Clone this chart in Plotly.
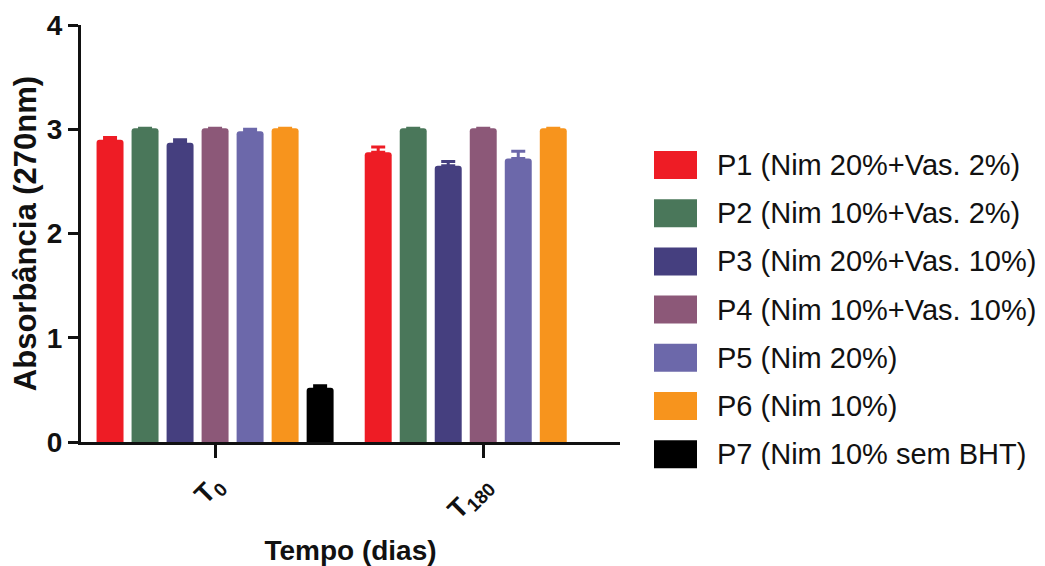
import plotly.graph_objects as go

# ---- data ----
categories = ["T<sub>0</sub>", "T<sub>180</sub>"]
series_names = [
    "P1 (Nim 20%+Vas. 2%)",
    "P2 (Nim 10%+Vas. 2%)",
    "P3 (Nim 20%+Vas. 10%)",
    "P4 (Nim 10%+Vas. 10%)",
    "P5 (Nim 20%)",
    "P6 (Nim 10%)",
    "P7 (Nim 10% sem BHT)",
]
p1_values = [2.90, 2.78]
p2_values = [3.01, 3.01]
p3_values = [2.87, 2.65]
p4_values = [3.01, 3.01]
p5_values = [2.98, 2.72]
p6_values = [3.01, 3.01]
p7_values = [0.52, None]

p1_errors = [0.02, 0.05]
p2_errors = [0.00, 0.00]
p3_errors = [0.03, 0.04]
p4_errors = [0.00, 0.00]
p5_errors = [0.02, 0.07]
p6_errors = [0.00, 0.00]
p7_errors = [0.02, 0.0]

colors = ["#EE1C25", "#4A775A", "#453F7F", "#8C5878", "#6C68AA", "#F7941D", "#000000"]

all_values = [p1_values, p2_values, p3_values, p4_values, p5_values, p6_values, p7_values]
all_errors = [p1_errors, p2_errors, p3_errors, p4_errors, p5_errors, p6_errors, p7_errors]

FONT = "Liberation Sans, Arial, Helvetica, sans-serif"

fig = go.Figure()
for name, vals, errs, col in zip(series_names, all_values, all_errors, colors):
    fig.add_trace(go.Bar(
        x=categories, y=vals, name=name,
        marker=dict(color=col, line=dict(width=0)),
        error_y=dict(type="data", array=errs, arrayminus=[0] * len(errs), symmetric=False,
                     color=col, thickness=3, width=7),
        showlegend=False,
    ))

# ---- layout geometry (page body adds an 8px margin) ----
OFF = 8
W, H = 1045 - OFF, 566 - OFF
ml, mr, mt, mb = 81 - OFF, 1045 - 620, 25 - OFF, 566 - 442
pw, ph = W - ml - mr, H - mt - mb

def px2x(px):
    return (px - OFF - ml) / pw

def py2y(py):
    return (H + OFF - mb - py) / ph

# ---- manual legend (large swatches) ----
shapes = []
annotations = []
for i, (name, col) in enumerate(zip(series_names, colors)):
    cy = 165 + 48.2 * i
    shapes.append(dict(type="rect", xref="paper", yref="paper",
                       x0=px2x(654), x1=px2x(697), y0=py2y(cy + 14), y1=py2y(cy - 14),
                       fillcolor=col, line=dict(width=0), layer="above"))
    annotations.append(dict(xref="paper", yref="paper", x=px2x(715), y=py2y(cy),
                            xanchor="left", yanchor="middle", text=name, showarrow=False,
                            font=dict(family=FONT, size=29, color="#111111")))

fig.update_layout(
    width=W, height=H,
    margin=dict(l=ml, r=mr, t=mt, b=mb, autoexpand=False),
    plot_bgcolor="white", paper_bgcolor="white",
    barmode="group", bargap=0.086, bargroupgap=0.23, barcornerradius=3,
    font=dict(family=FONT, color="#111111"),
    shapes=shapes, annotations=annotations,
    showlegend=False,
)
fig.update_xaxes(
    type="category", range=[-0.5, 1.51], automargin=False,
    showline=True, linecolor="#111111", linewidth=3,
    ticks="outside", ticklen=13, tickwidth=3, tickcolor="#111111",
    tickangle=-45, ticklabelstandoff=0,
    tickfont=dict(family=FONT, size=27, color="#111111", weight="bold"),
    title=dict(text="<b>Tempo (dias)</b>", font=dict(family=FONT, size=28, color="#111111"), standoff=18),
    showgrid=False, zeroline=False,
)
fig.update_yaxes(
    range=[0, 4], tickvals=[0, 1, 2, 3, 4], automargin=False,
    showline=True, linecolor="#111111", linewidth=3,
    ticks="outside", ticklen=10, tickwidth=3, tickcolor="#111111",
    tickfont=dict(family=FONT, size=28, color="#111111", weight="bold"),
    title=dict(text="<b>Absorbância (270nm)</b>", font=dict(family=FONT, size=31, color="#111111"), standoff=12),
    showgrid=False, zeroline=False,
)

fig.write_html("out.html")
